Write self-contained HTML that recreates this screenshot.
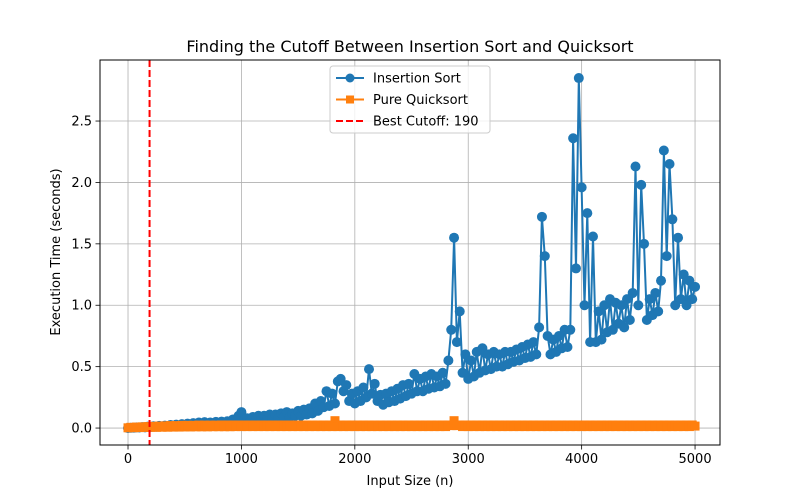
<!DOCTYPE html>
<html><head><meta charset="utf-8"><style>
body{margin:0;background:#fff;font-family:"Liberation Sans","DejaVu Sans",sans-serif}
svg{display:block}
text{font-family:"DejaVu Sans","Liberation Sans",sans-serif;fill:#000}
</style></head><body>
<svg id="chart" width="800" height="500" viewBox="0 0 800 500" xmlns="http://www.w3.org/2000/svg"></svg>
<script>
const step = 25;
const insertionTimes = [
0,0.002,0.003,0.006,0.004,0.008,0.006,0.012,0.008,0.015,0.011,0.018,0.013,0.02,0.016,0.025,0.018,0.028,0.02,0.032,0.024,0.036,0.026,0.04,0.028,0.045,0.03,0.048,0.032,0.045,0.035,0.05,0.036,0.052,0.04,0.055,0.045,0.07,0.06,0.1,
0.13,0.06,0.08,0.05,0.09,0.06,0.1,0.07,0.1,0.07,0.11,0.08,0.11,0.08,0.12,0.09,0.13,0.09,0.12,0.1,0.14,0.1,0.15,0.11,0.16,0.12,0.2,0.14,0.22,0.17,0.3,0.18,0.28,0.2,0.38,0.4,0.3,0.35,0.22,0.28,
0.2,0.3,0.22,0.33,0.25,0.48,0.28,0.36,0.22,0.27,0.19,0.28,0.21,0.3,0.22,0.32,0.24,0.35,0.26,0.36,0.28,0.44,0.3,0.4,0.3,0.42,0.32,0.44,0.33,0.42,0.34,0.45,0.36,0.55,0.8,1.55,0.7,0.95,0.45,0.6,
0.4,0.55,0.42,0.62,0.45,0.65,0.47,0.6,0.48,0.62,0.5,0.6,0.5,0.62,0.52,0.62,0.54,0.64,0.55,0.66,0.57,0.68,0.58,0.7,0.6,0.82,1.72,1.4,0.75,0.6,0.72,0.62,0.75,0.65,0.8,0.66,0.8,2.36,1.3,2.85,
1.96,1.0,1.75,0.7,1.56,0.7,0.95,0.72,1.0,0.78,1.05,0.8,1.02,0.85,1.0,0.82,1.05,0.88,1.1,2.13,1.0,1.98,1.5,0.88,1.05,0.92,1.1,0.95,1.2,2.26,1.4,2.15,1.7,1.0,1.55,1.05,1.25,1.0,1.2,1.05,
1.15];
const quickTimes = [
0.002,0.006,0.003,0.008,0.004,0.01,0.005,0.012,0.006,0.014,0.006,0.016,0.007,0.018,0.007,0.02,0.008,0.02,0.008,0.022,0.009,0.022,0.009,0.022,0.01,0.024,0.01,0.024,0.01,0.024,0.011,0.024,0.011,0.025,0.011,0.025,0.011,0.025,0.012,0.025,
0.012,0.025,0.012,0.025,0.012,0.025,0.012,0.025,0.012,0.025,0.012,0.025,0.012,0.025,0.012,0.025,0.012,0.025,0.012,0.025,0.012,0.025,0.012,0.025,0.012,0.025,0.012,0.025,0.012,0.025,0.012,0.025,0.012,0.06,0.012,0.025,0.012,0.025,0.012,0.025,
0.012,0.025,0.012,0.025,0.012,0.025,0.012,0.025,0.012,0.025,0.012,0.025,0.012,0.025,0.012,0.025,0.012,0.025,0.012,0.025,0.012,0.025,0.012,0.025,0.012,0.025,0.012,0.025,0.012,0.025,0.012,0.025,0.012,0.025,0.02,0.06,0.02,0.025,0.012,0.025,
0.012,0.025,0.012,0.025,0.012,0.025,0.012,0.025,0.012,0.025,0.012,0.025,0.012,0.025,0.012,0.025,0.012,0.025,0.012,0.025,0.012,0.025,0.012,0.025,0.012,0.025,0.012,0.025,0.012,0.025,0.012,0.025,0.012,0.025,0.012,0.025,0.012,0.025,0.012,0.025,
0.012,0.025,0.012,0.025,0.012,0.025,0.012,0.025,0.012,0.025,0.012,0.025,0.012,0.025,0.012,0.025,0.012,0.025,0.012,0.025,0.012,0.025,0.012,0.025,0.012,0.025,0.012,0.025,0.012,0.025,0.012,0.025,0.012,0.025,0.012,0.025,0.012,0.025,0.012,0.025,
0.016];
const bestCutoff = 190;
const xTicks = [0,1000,2000,3000,4000,5000];
const yTicks = [0.0,0.5,1.0,1.5,2.0,2.5];

const NS="http://www.w3.org/2000/svg";
const svg=document.getElementById('chart');
const L=100,R=720,T=60,B=445;
const X0=-247,X1=5220,Y0=-0.138,Y1=2.997;
const sx=v=>L+(v-X0)/(X1-X0)*(R-L);
const sy=v=>B-(v-Y0)/(Y1-Y0)*(B-T);
function el(tag,attrs,parent){const e=document.createElementNS(NS,tag);for(const k in attrs)e.setAttribute(k,attrs[k]);(parent||svg).appendChild(e);return e;}

const clip=el('clipPath',{id:'pc'});el('rect',{x:L,y:T,width:R-L,height:B-T},clip);
const grid=el('g',{});


xTicks.forEach(t=>{
  const l=el('line',{x1:sx(t),x2:sx(t),y1:T,y2:B,stroke:'#b0b0b0','stroke-width':0.8},grid);
  
  
  el('line',{x1:sx(t),x2:sx(t),y1:B,y2:B+4.5,stroke:'#000','stroke-width':0.8});
  const tx=el('text',{x:sx(t),y:B+18,'text-anchor':'middle','font-size':13});tx.textContent=t;
  
  
});
yTicks.forEach(t=>{
  const l=el('line',{x1:L,x2:R,y1:sy(t),y2:sy(t),stroke:'#b0b0b0','stroke-width':0.8},grid);
  
  
  el('line',{x1:L-4.5,x2:L,y1:sy(t),y2:sy(t),stroke:'#000','stroke-width':0.8});
  const tx=el('text',{x:L-8,y:sy(t)+4.5,'text-anchor':'end','font-size':13});tx.textContent=t.toFixed(1);
  
  
});

const data=el('g',{'clip-path':'url(#pc)'});
let d=insertionTimes.map((v,i)=>(i?'L':'M')+sx(i*step).toFixed(1)+','+sy(v).toFixed(1)).join('');
const ins=el('g',{},data);


el('path',{d:d,fill:'none',stroke:'#1f77b4','stroke-width':2},ins);
insertionTimes.forEach((v,i)=>{const c=el('circle',{cx:sx(i*step),cy:sy(v),r:5,fill:'#1f77b4'},ins);
  
  });
d=quickTimes.map((v,i)=>(i?'L':'M')+sx(i*step).toFixed(1)+','+sy(v).toFixed(1)).join('');
const qs=el('g',{},data);


el('path',{d:d,fill:'none',stroke:'#ff7f0e','stroke-width':2},qs);
quickTimes.forEach((v,i)=>{const r=el('rect',{x:sx(i*step)-4.5,y:sy(v)-4.5,width:9,height:9,fill:'#ff7f0e'},qs);
  
  });
const cut=el('line',{x1:sx(bestCutoff),x2:sx(bestCutoff),y1:T,y2:B,stroke:'#ff0000','stroke-width':2,'stroke-dasharray':'7,3'},data);



const frame=el('rect',{x:L,y:T,width:R-L,height:B-T,fill:'none',stroke:'#000','stroke-width':1});



const title=el('text',{x:410,y:52,'text-anchor':'middle','font-size':16});title.textContent='Finding the Cutoff Between Insertion Sort and Quicksort';


const xt=el('text',{x:410,y:485,'text-anchor':'middle','font-size':13});xt.textContent='Input Size (n)';


const yt=el('text',{x:60,y:252,'text-anchor':'middle','font-size':13,transform:'rotate(-90 60 252)'});yt.textContent='Execution Time (seconds)';



const lg=el('g',{});


el('rect',{x:330,y:66,width:160,height:67,rx:3,fill:'#fff','fill-opacity':0.8,stroke:'#ccc','stroke-width':1},lg);
const entries=[['Insertion Sort','#1f77b4','c'],['Pure Quicksort','#ff7f0e','s'],['Best Cutoff: 190','#ff0000','d']];
entries.forEach((e,i)=>{
  const y=78+i*21.5;
  const g=el('g',{},lg);
  
  
  el('line',{x1:336,x2:364,y1:y,y2:y,stroke:e[1],'stroke-width':2,'stroke-dasharray':e[2]=='d'?'7,3':'none'},g);
  if(e[2]=='c')el('circle',{cx:350,cy:y,r:4.5,fill:e[1]},g);
  if(e[2]=='s')el('rect',{x:346,y:y-4,width:8,height:8,fill:e[1]},g);
  const t=el('text',{x:373,y:y+4.5,'font-size':13},g);t.textContent=e[0];
});
</script>
</body></html>
